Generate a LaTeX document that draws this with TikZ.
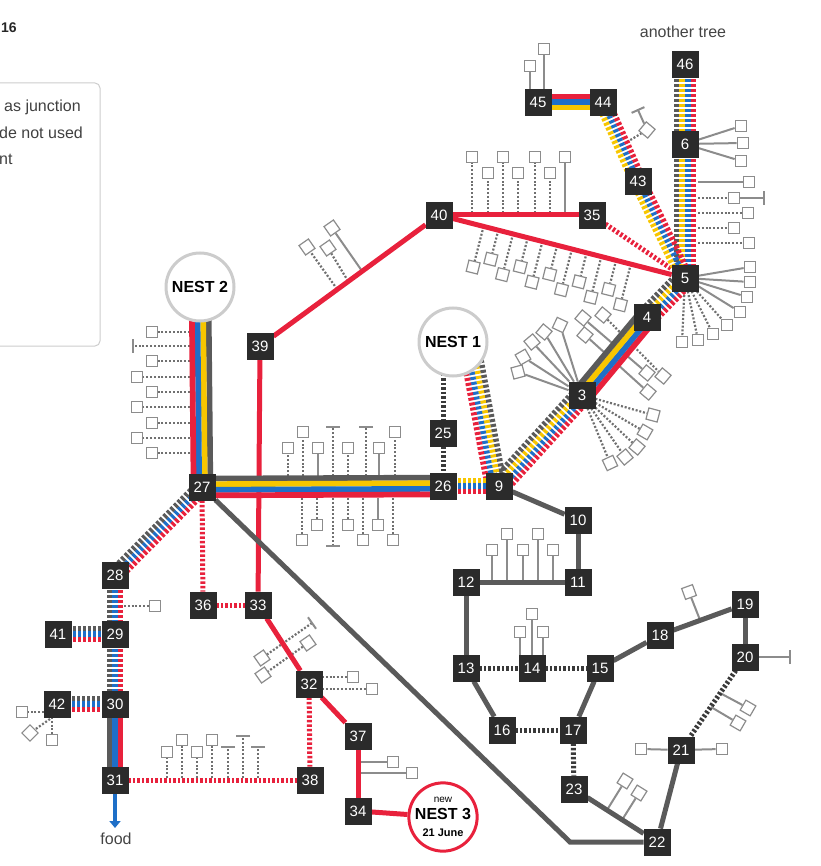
\documentclass[tikz,border=0pt]{standalone}
\usepackage{fontspec}
\setmainfont{Liberation Sans}
\usetikzlibrary{calc,arrows.meta}
\definecolor{gc}{HTML}{5A5A5A}
\definecolor{yc}{HTML}{F7C600}
\definecolor{bc}{HTML}{1E6FC8}
\definecolor{rc}{HTML}{E8213C}
\definecolor{boxc}{HTML}{2B2B2B}
\definecolor{leafc}{HTML}{8C8C8C}
\definecolor{dstemc}{HTML}{707070}
\definecolor{nestc}{HTML}{CCCCCC}
\definecolor{dgc}{HTML}{3A3A3A}
\definecolor{txtc}{HTML}{444444}
\pgfdeclarelayer{stemsl}
\pgfdeclarelayer{bundl}
\pgfsetlayers{stemsl,bundl,main}
\newcommand{\bund}[5]{%
  \foreach \bcol [count=\bidx] in {#5}{%
    \pgfmathsetmacro{\boff}{((#4+1)/2-\bidx)*5.6}%
    \draw[#1,draw=\bcol] ($(#2)!\boff pt!90:(#3)$) -- ($(#3)!\boff pt!-90:(#2)$);%
  }}
\newcommand{\tbar}[2]{\draw[stem] ($#1!7pt!90:#2$) -- ($#1!7pt!-90:#2$);}
\tikzset{
  nb/.style={fill=boxc, draw=boxc, line width=0.8pt, text=white, minimum size=26pt, inner sep=0pt, font=\fontsize{15}{15}\selectfont},
  nest/.style={circle, draw=nestc, line width=3pt, fill=white, minimum size=68pt, inner sep=0pt, text=black, font=\bfseries\fontsize{16}{18}\selectfont},
  leaf/.style={rectangle, draw=leafc, fill=white, line width=1.2pt, minimum size=11.5pt, inner sep=0pt},
  stem/.style={draw=leafc, line width=2pt},
  dstem/.style={draw=dstemc, line width=2.2pt, dash pattern=on 2pt off 1.8pt},
  bs/.style={line width=5.7pt},
  bd/.style={line width=5.7pt, dash pattern=on 3pt off 2pt},
  redl/.style={draw=rc, line width=5pt},
  redd/.style={draw=rc, line width=5pt, dash pattern=on 2.5pt off 2pt},
  greyl/.style={draw=gc, line width=5pt},
  greyd/.style={draw=dgc, line width=5pt, dash pattern=on 2.5pt off 2pt},
  lbl/.style={text=txtc, font=\fontsize{16}{18}\selectfont, inner sep=0pt},
}
\begin{document}
\begin{tikzpicture}[x=1pt,y=-1pt]
\useasboundingbox (0,0) rectangle (820,866);
% legend fragment
\node[draw=nestc, line width=1pt, rounded corners=5pt, minimum width=115pt, minimum height=263pt, inner sep=0pt] (legend) at (42.5,214.5) {};
\node[lbl, anchor=west, text=black!75] (lg1) at (4,107) {as junction};
\node[lbl, anchor=west, text=black!75] (lg2) at (-1,133) {de not used};
\node[lbl, anchor=west, text=black!75] (lg3) at (-1,159) {nt};
\node[anchor=west, inner sep=0pt, font=\bfseries\fontsize{14}{15}\selectfont, text=black!85] (yr) at (1,28) {16};
\node[lbl] (atree) at (683,32) {another tree};
\node[lbl] (food) at (116,839) {food};
% nests
\node[nest] (nest2) at (200,287) {NEST 2};
\node[nest] (nest1) at (453,342) {NEST 1};
\node[nest, draw=rc, align=center] (nest3) at (443,817) {{\mdseries\fontsize{10}{11}\selectfont new}\\[-1pt]{\fontsize{16}{17}\selectfont NEST 3}\\[-1pt]{\fontsize{11}{12}\selectfont 21 June}};
% numbered nodes
\node[nb] (n46) at (685,64) {46};
\node[nb] (n6) at (685,144) {6};
\node[nb] (n5) at (685,278) {5};
\node[nb] (n45) at (538,102) {45};
\node[nb] (n44) at (603,102) {44};
\node[nb] (n43) at (638,181) {43};
\node[nb] (n35) at (592,215) {35};
\node[nb] (n40) at (439,215) {40};
\node[nb] (n4) at (647,317) {4};
\node[nb] (n3) at (582,395) {3};
\node[nb] (n25) at (443,433) {25};
\node[nb] (n26) at (443,486) {26};
\node[nb] (n9) at (499,486) {9};
\node[nb] (n39) at (260,346) {39};
\node[nb] (n27) at (202,487) {27};
\node[nb] (n10) at (578,520) {10};
\node[nb] (n11) at (578,582) {11};
\node[nb] (n12) at (466,582) {12};
\node[nb] (n28) at (115,575) {28};
\node[nb] (n29) at (115,634) {29};
\node[nb] (n41) at (58,634) {41};
\node[nb] (n36) at (203,605) {36};
\node[nb] (n33) at (258,605) {33};
\node[nb] (n13) at (466,668) {13};
\node[nb] (n14) at (532,668) {14};
\node[nb] (n15) at (600,668) {15};
\node[nb] (n18) at (660,635) {18};
\node[nb] (n19) at (745,604) {19};
\node[nb] (n20) at (745,657) {20};
\node[nb] (n32) at (309,684) {32};
\node[nb] (n42) at (57,704) {42};
\node[nb] (n30) at (115,704) {30};
\node[nb] (n16) at (502,730) {16};
\node[nb] (n17) at (573,730) {17};
\node[nb] (n37) at (358,736) {37};
\node[nb] (n21) at (681,750) {21};
\node[nb] (n31) at (115,780) {31};
\node[nb] (n38) at (310,780) {38};
\node[nb] (n23) at (574,789) {23};
\node[nb] (n34) at (358,811) {34};
\node[nb] (n22) at (657,842) {22};
\coordinate (corner) at (570,842);
\coordinate (foodtip) at (115,828);

\begin{pgfonlayer}{bundl}
% single red lines
\draw[redl] (n39) -- (n33);
\draw[redl] (n40) -- (n35);
\draw[redl] (n40) -- (n5);
\draw[redl] (n39) -- (n40);
\draw[redl] (n33) -- (n32);
\draw[redl] (n32) -- (n37);
\draw[redl] (n37) -- (n34);
\draw[redl] (n34) -- (nest3);
\draw[redd] (n35) -- (n5);
\draw[redd] (n27) -- (n36);
\draw[redd] (n36) -- (n33);
\draw[redd] (n32) -- (n38);
\draw[redd] (n31) -- (n38);
% grey lines
\draw[greyl] (n27) -- (corner) -- (n22);
\draw[greyl] (n9) -- (n10);
\draw[greyl] (n10) -- (n11);
\draw[greyl] (n11) -- (n12);
\draw[greyl] (n12) -- (n13);
\draw[greyl] (n13) -- (n16);
\draw[greyl] (n15) -- (n17);
\draw[greyl] (n15) -- (n18);
\draw[greyl] (n18) -- (n19);
\draw[greyl] (n19) -- (n20);
\draw[greyl] (n21) -- (n22);
\draw[greyl] (n23) -- (n22);
\draw[greyd] ([xshift=-10pt]nest1.center) -- (n25);
\draw[greyd] (n25) -- (n26);
\draw[greyd] (n13) -- (n14);
\draw[greyd] (n14) -- (n15);
\draw[greyd] (n16) -- (n17);
\draw[greyd] (n17) -- (n23);
\draw[greyd] (n20) -- (n21);
% bundles
\bund{bd}{n46}{n6}{4}{rc,bc,yc,gc}
\bund{bd}{n6}{n5}{4}{rc,bc,yc,gc}
\bund{bs}{n45}{n44}{3}{rc,bc,yc}
\bund{bd}{n44}{n43}{3}{rc,bc,yc}
\bund{bd}{n43}{n5}{3}{rc,bc,yc}
\bund{bd}{n5}{n4}{4}{rc,bc,yc,gc}
\bund{bs}{n4}{n3}{4}{rc,bc,yc,gc}
\bund{bd}{n3}{n9}{4}{rc,bc,yc,gc}
\bund{bd}{[xshift=16pt]nest1.center}{[xshift=-3pt]n9.center}{4}{gc,yc,bc,rc}
\bund{bd}{n26}{n9}{3}{yc,bc,rc}
\bund{bs}{n27}{n26}{4}{gc,yc,bc,rc}
\bund{bs}{nest2}{n27}{4}{gc,yc,bc,rc}
\bund{bd}{n27}{n28}{3}{rc,bc,gc}
\bund{bd}{n28}{n29}{3}{rc,bc,gc}
\bund{bd}{n29}{n30}{3}{rc,bc,gc}
\bund{bd}{n41}{n29}{3}{gc,bc,rc}
\bund{bd}{n42}{n30}{3}{gc,bc,rc}
\bund{bs}{n30}{n31}{3}{rc,bc,gc}
\draw[draw=bc, line width=4pt, -{Triangle[length=7pt,width=11pt]}] (n31) -- (foodtip);
\end{pgfonlayer}

\begin{pgfonlayer}{stemsl}
% 45
\node[leaf] (l45a) at (530,66) {};
\node[leaf] (l45b) at (544,49) {};
\draw[stem] (530,92) -- (l45a);
\draw[stem] (544,92) -- (l45b);
% 44
\node[leaf,rotate=-40] (l44a) at (647,130) {};
\coordinate (t44) at (638,110);
\draw[dstem] (627,142) -- (l44a);
\draw[stem] (l44a) -- (t44);
\tbar{(t44)}{(l44a)}
% 6 fan
\foreach \p [count=\i] in {(741,126),(743,143),(741,161)}{\node[leaf] (l6\i) at \p {}; \draw[stem] (n6) -- (l6\i);}
% 6-5 right
\node[leaf] (l65a) at (749,182) {}; \draw[stem] (698,182) -- (l65a);
\node[leaf] (l65b) at (734,198) {}; \draw[dstem] (698,198) -- (l65b);
\coordinate (t65) at (764,198); \draw[stem] (l65b) -- (t65); \tbar{(t65)}{(l65b)}
\node[leaf] (l65c) at (748,213) {}; \draw[dstem] (698,213) -- (l65c);
\node[leaf] (l65d) at (734,228) {}; \draw[dstem] (698,228) -- (l65d);
\node[leaf] (l65e) at (749,243) {}; \draw[dstem] (698,243) -- (l65e);
% 5 fan
\foreach \p [count=\i] in {(750,267),(750,282),(747,297),(740,312)}{\node[leaf] (l5s\i) at \p {}; \draw[stem] (n5) -- (l5s\i);}
\foreach \p [count=\i] in {(727,325),(713,334),(698,340),(682,342)}{\node[leaf] (l5d\i) at \p {}; \draw[dstem] (n5) -- (l5d\i);}
% 40-35 up
\foreach \x/\y/\s [count=\i] in {472/157/dstem,488/173/dstem,503/157/dstem,518/173/dstem,535/157/dstem,550/173/dstem,565/157/stem}{\node[leaf] (l4035\i) at (\x,\y) {}; \draw[\s] (\x,213) -- (l4035\i);}
% 40-5 down
\foreach \k in {0,...,10}{%
  \pgfmathsetmacro{\sdist}{46+15.2*\k}%
  \pgfmathsetmacro{\slen}{ifthenelse(mod(\k,2)==0,42,30)}%
  \coordinate (p40\k) at ($(n40)!\sdist pt!(n5)$);%
  \node[leaf,rotate=-14] (l40\k) at ($(p40\k)!\slen pt!-90:(n5)$) {};%
  \draw[dstem] (p40\k) -- (l40\k);%
}
% 39-40
\node[leaf,rotate=35] (l3940a) at (332,228) {}; \draw[stem] (362,271) -- (l3940a);
\node[leaf,rotate=35] (l3940b) at (328,248) {}; \draw[dstem] (348,281) -- (l3940b);
\node[leaf,rotate=35] (l3940c) at (307,247) {}; \draw[dstem] (337,289) -- (l3940c);
% NEST 2 left
\foreach \y/\x [count=\i] in {332/152,361/152,377/137,392/152,407/137,423/152,438/137,453/152}{\node[leaf] (ln2\i) at (\x,\y) {}; \draw[dstem] (190,\y) -- (ln2\i);}
\coordinate (tn2) at (133,346); \coordinate (tn2b) at (190,346);
\draw[dstem] (tn2b) -- (tn2); \tbar{(tn2)}{(tn2b)}
% 27-26 top
\foreach \x/\y/\s [count=\i] in {288/448/dstem,303/432/dstem,318/448/stem,348/448/dstem,379/448/stem,395/432/dstem}{\node[leaf] (l26t\i) at (\x,\y) {}; \draw[\s] (\x,476) -- (l26t\i);}
\coordinate (t26a) at (333,427); \coordinate (t26ab) at (333,476);
\draw[dstem] (t26ab) -- (t26a); \tbar{(t26a)}{(t26ab)}
\coordinate (t26b) at (366,427); \coordinate (t26bb) at (366,476);
\draw[dstem] (t26bb) -- (t26b); \tbar{(t26b)}{(t26bb)}
% 27-26 bottom
\foreach \x/\y/\s [count=\i] in {302/540/dstem,317/525/dstem,348/525/dstem,363/540/dstem,378/525/stem,393/540/dstem}{\node[leaf] (l26b\i) at (\x,\y) {}; \draw[\s] (\x,498) -- (l26b\i);}
\coordinate (t26c) at (333,546); \coordinate (t26cb) at (333,498);
\draw[dstem] (t26cb) -- (t26c); \tbar{(t26c)}{(t26cb)}
% 3 fans
\foreach \p/\r [count=\i] in {(518,372)/15,(523,357)/30,(532,342)/40,(544,332)/50,(560,325)/65}{\node[leaf,rotate=\r] (l3u\i) at \p {}; \draw[stem] (n3) -- (l3u\i);}
\foreach \p/\r [count=\i] in {(653,415)/-15,(645,432)/-30,(637,447)/-40,(625,457)/-50,(610,463)/-65}{\node[leaf,rotate=\r] (l3d\i) at \p {}; \draw[dstem] (n3) -- (l3d\i);}
% 4-3 crossing
\node[leaf,rotate=-40] (lx1a) at (583,318) {}; \node[leaf,rotate=-40] (lx1b) at (647,373) {}; \draw[stem] (lx1a) -- (lx1b);
\node[leaf,rotate=-40] (lx2a) at (603,315) {}; \node[leaf,rotate=-40] (lx2b) at (663,376) {}; \draw[dstem] (lx2a) -- (lx2b);
\node[leaf,rotate=-40] (lx3a) at (585,335) {}; \node[leaf,rotate=-40] (lx3b) at (648,392) {}; \draw[stem] (lx3a) -- (lx3b);
% 28-29
\node[leaf] (l28) at (155,606) {}; \draw[dstem] (124,606) -- (l28);
% 42
\node[leaf] (l42a) at (22,712) {}; \draw[dstem] (44,712) -- (l42a);
\node[leaf,rotate=45] (l42b) at (30,733) {}; \draw[dstem] (50,719) -- (l42b);
\node[leaf] (l42c) at (52,740) {}; \draw[dstem] (52,717) -- (l42c);
% 33-32 crossing
\coordinate (t33) at (312,623);
\node[leaf,rotate=35] (l33a) at (262,658) {}; \draw[dstem] (t33) -- (l33a); \tbar{(t33)}{(l33a)}
\node[leaf,rotate=35] (l33b) at (308,643) {}; \node[leaf,rotate=35] (l33c) at (263,675) {}; \draw[dstem] (l33b) -- (l33c);
% 32 right
\node[leaf] (l32a) at (353,677) {}; \draw[dstem] (322,677) -- (l32a);
\node[leaf] (l32b) at (372,689) {}; \draw[dstem] (322,689) -- (l32b);
% 37
\node[leaf] (l37a) at (393,762) {}; \draw[stem] (360,762) -- (l37a);
\node[leaf] (l37b) at (412,773) {}; \draw[stem] (360,773) -- (l37b);
% 31-38 top
\foreach \x/\y [count=\i] in {167/752,182/740,197/752,212/740}{\node[leaf] (l31\i) at (\x,\y) {}; \draw[dstem] (\x,778) -- (l31\i);}
\foreach \x/\y [count=\i] in {228/747,243/736,258/747}{\coordinate (t31\i) at (\x,\y); \coordinate (t31b\i) at (\x,778); \draw[dstem] (t31b\i) -- (t31\i); \tbar{(t31\i)}{(t31b\i)}}
% 14
\foreach \x/\y [count=\i] in {520/632,532/614,543/632}{\node[leaf] (l14\i) at (\x,\y) {}; \draw[stem] (\x,656) -- (l14\i);}
% 12-11
\foreach \x/\y [count=\i] in {492/550,507/534,523/550,538/534,553/550}{\node[leaf] (l12\i) at (\x,\y) {}; \draw[stem] (\x,582) -- (l12\i);}
% 18-19
\node[leaf,rotate=20] (l18) at (689,592) {}; \draw[stem] (700,620) -- (l18);
% 20
\coordinate (t20) at (790,657); \draw[stem] (n20) -- (t20); \tbar{(t20)}{(n20)}
% 20-21
\node[leaf,rotate=-30] (l20a) at (748,708) {}; \draw[stem] (720,693) -- (l20a);
\node[leaf,rotate=-30] (l20b) at (738,723) {}; \draw[stem] (711,707) -- (l20b);
% 21
\node[leaf] (l21a) at (641,749) {}; \draw[stem] (n21) -- (l21a);
\node[leaf] (l21b) at (722,749) {}; \draw[stem] (n21) -- (l21b);
% 23-22
\node[leaf,rotate=-32] (l23a) at (625,781) {}; \draw[stem] (607,810) -- (l23a);
\node[leaf,rotate=-32] (l23b) at (639,793) {}; \draw[stem] (622,820) -- (l23b);
\end{pgfonlayer}
\end{tikzpicture}
\end{document}
